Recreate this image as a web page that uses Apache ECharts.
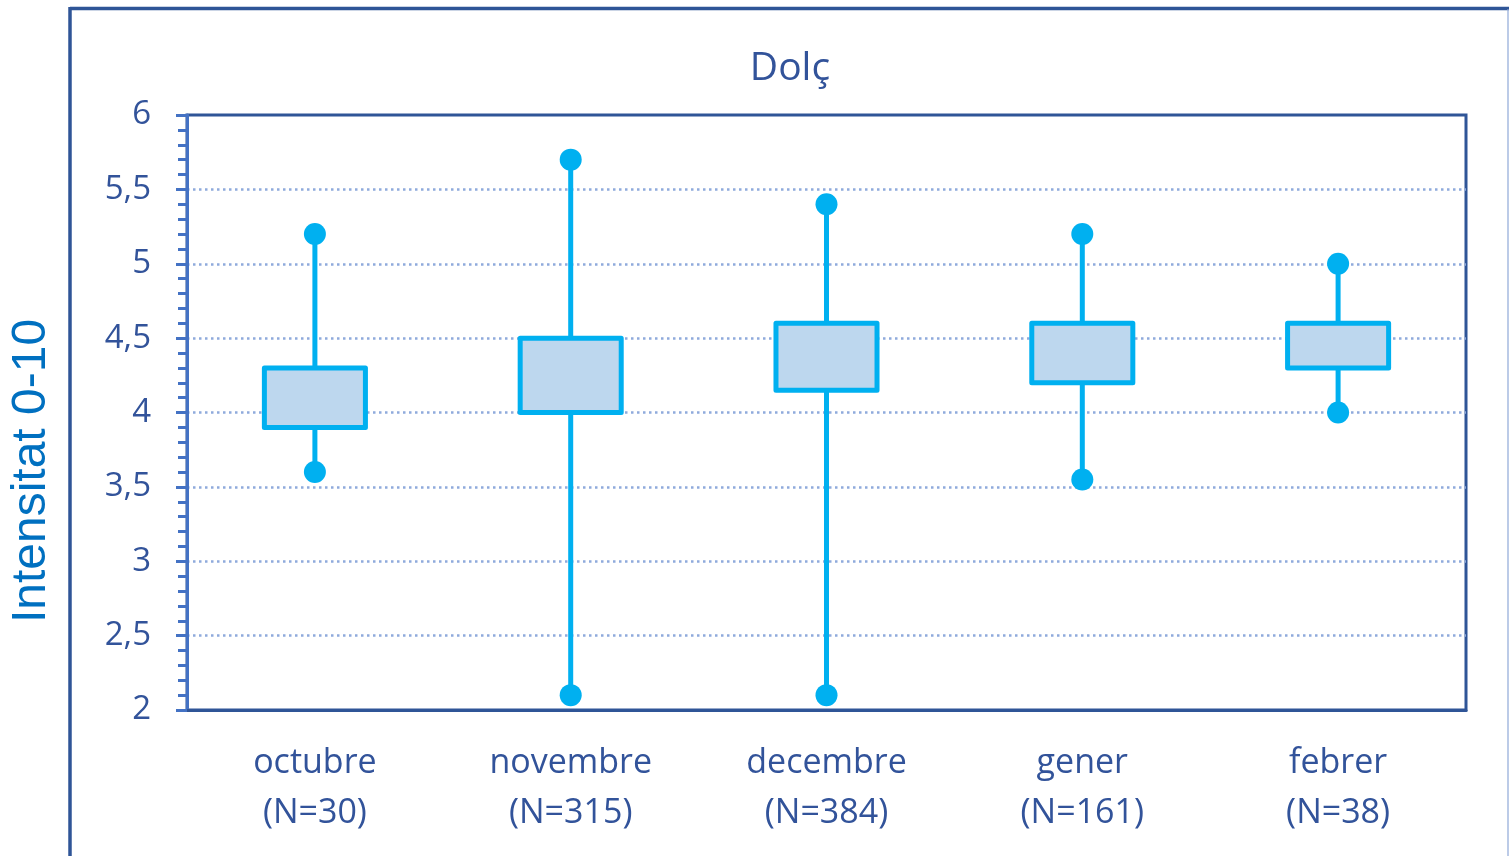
<!DOCTYPE html>
<html>
<head>
<meta charset="utf-8">
<script src="https://cdn.jsdelivr.net/npm/echarts@6/dist/echarts.min.js"></script>
<style>
html,body{margin:0;padding:0;background:#fff;}
#chart{width:1509px;height:856px;}
</style>
</head>
<body>
<div id="chart"></div>
<script>
const categories = ['octubre\n(N=30)', 'novembre\n(N=315)', 'decembre\n(N=384)', 'gener\n(N=161)', 'febrer\n(N=38)'];
const minValues = [3.6, 2.1, 2.1, 3.55, 4.0];
const q1Values  = [3.9, 4.0, 4.15, 4.2, 4.3];
const q3Values  = [4.3, 4.5, 4.6, 4.6, 4.6];
const maxValues = [5.2, 5.7, 5.4, 5.2, 5.0];
const yTicks = [2, 2.5, 3, 3.5, 4, 4.5, 5, 5.5, 6];

const boxData = categories.map((c, i) => [i, minValues[i], q1Values[i], q3Values[i], maxValues[i]]);
const dotData = [];
categories.forEach((c, i) => { dotData.push([i, maxValues[i]]); dotData.push([i, minValues[i]]); });

const chart = echarts.init(document.getElementById('chart'), null, {renderer: 'canvas'});
const labelColor = '#32539A';
const option = {
  animation: false,
  grid: {left: 187, right: 43, top: 115, bottom: 146, show: true, borderColor: '#2F5597', borderWidth: 3, backgroundColor: 'transparent'},
  graphic: [
    {type: 'line', shape: {x1: 70, y1: 8.5, x2: 1509, y2: 8.5}, style: {stroke: '#2F5597', lineWidth: 3.5}, z: 10},
    {type: 'line', shape: {x1: 70, y1: 7, x2: 70, y2: 856}, style: {stroke: '#2F5597', lineWidth: 3.5}, z: 10},
    {type: 'line', shape: {x1: 1508, y1: 9, x2: 1508, y2: 856}, style: {stroke: '#8FA8D8', lineWidth: 1.2}, z: 10},
    {type: 'text', x: 790, y: 69, style: {text: 'Dolç', fontFamily: 'Open Sans', fontSize: 39, fill: labelColor, align: 'center', verticalAlign: 'middle'}, z: 10},
    {type: 'text', x: 32, y: 471, rotation: Math.PI / 2, style: {text: 'Intensitat 0-10', fontFamily: 'Liberation Sans', fontSize: 48, fill: '#0070C0', align: 'center', verticalAlign: 'middle'}, z: 10}
  ],
  xAxis: {
    type: 'category',
    data: categories,
    axisTick: {show: false},
    axisLine: {show: true, lineStyle: {color: '#2F5597', width: 3}},
    axisLabel: {color: labelColor, fontFamily: 'Open Sans', fontSize: 34, lineHeight: 50, margin: 28},
    splitLine: {show: false}
  },
  yAxis: {
    type: 'value',
    min: yTicks[0], max: yTicks[yTicks.length - 1], interval: 0.5,
    axisLine: {show: true, lineStyle: {color: '#4472C4', width: 3}},
    axisTick: {show: true, length: 11, lineStyle: {color: '#4472C4', width: 3}},
    minorTick: {show: true, splitNumber: 5, length: 9, lineStyle: {color: '#4472C4', width: 3}},
    axisLabel: {color: labelColor, fontFamily: 'Open Sans', fontSize: 33, margin: 36,
      formatter: v => String(v).replace('.', ',')},
    splitLine: {show: true, showMinLine: false, showMaxLine: false, lineStyle: {color: '#8FAADC', width: 2.5, type: [2.5, 3.5]}}
  },
  series: [
    {
      type: 'custom',
      data: boxData,
      z: 5,
      renderItem: function (params, api) {
        const idx = api.value(0);
        const pMax = api.coord([idx, api.value(4)]);
        const pQ3 = api.coord([idx, api.value(3)]);
        const pQ1 = api.coord([idx, api.value(2)]);
        const pMin = api.coord([idx, api.value(1)]);
        const band = api.size([1, 0])[0];
        const w = band * 0.395;
        const ls = {stroke: '#00B0F0', lineWidth: 5};
        return {
          type: 'group',
          children: [
            {type: 'line', shape: {x1: pMax[0], y1: pMax[1], x2: pQ3[0], y2: pQ3[1]}, style: ls},
            {type: 'line', shape: {x1: pQ1[0], y1: pQ1[1], x2: pMin[0], y2: pMin[1]}, style: ls},
            {type: 'rect', shape: {x: pQ3[0] - w / 2, y: pQ3[1], width: w, height: pQ1[1] - pQ3[1]},
             style: {fill: '#BDD7EE', stroke: '#00B0F0', lineWidth: 5, lineJoin: 'round'}}
          ]
        };
      }
    },
    {
      type: 'scatter',
      data: dotData,
      symbol: 'circle',
      symbolSize: 22,
      z: 6,
      itemStyle: {color: '#00B0F0', opacity: 1}
    }
  ]
};
chart.setOption(option);
</script>
</body>
</html>
